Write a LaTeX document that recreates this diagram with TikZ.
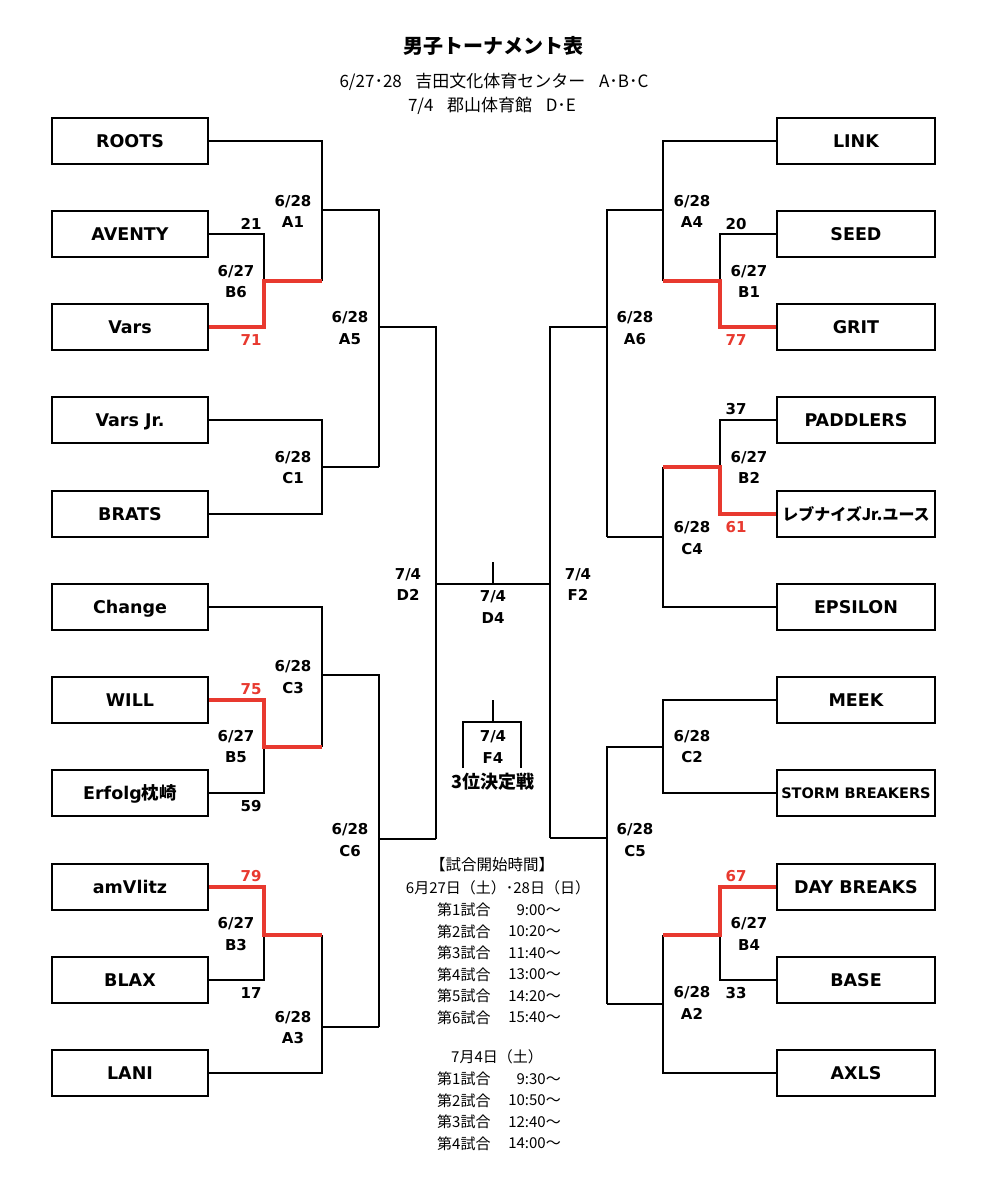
\documentclass[tikz,border=0pt]{standalone}
\usepackage{fontspec}
\setmainfont{DejaVu Sans}
\newfontfamily\jp{Noto Sans CJK JP}
\definecolor{winred}{HTML}{E8392F}
\begin{document}
\begin{tikzpicture}[x=1pt,y=-1pt,
  team/.style={draw, line width=1.8pt, minimum width=156pt, minimum height=46pt, inner sep=0pt, text height=12.6pt, text depth=0pt, font=\fontsize{17.5}{20}\selectfont\bfseries},
  rteam/.style={team, minimum width=158pt},
  ln/.style={line width=1.8pt},
  win/.style={line width=3.4pt, winred, line join=miter},
  lbl/.style={align=center, inner sep=0pt, font=\fontsize{15}{21.5}\selectfont\bfseries},
  score/.style={inner sep=0pt, font=\fontsize{15}{18}\selectfont\bfseries},
  rscore/.style={score, text=winred},
  sched/.style={inner sep=0pt, font=\fontsize{15}{18}\selectfont\jp}
]
\useasboundingbox (0,0) rectangle (989,1200);
\fill[white] (0,0) rectangle (989,1200);

% titles
\node[inner sep=0pt, font=\fontsize{20}{24}\selectfont\jp\bfseries] (title) at (493,46) {男子トーナメント表};
\node[inner sep=0pt, font=\fontsize{17}{19}\selectfont\jp] (sub1) at (494,82) {6/27･28\hspace{0.8em}吉田文化体育センター\hspace{0.8em}A･B･C};
\node[inner sep=0pt, font=\fontsize{17}{19}\selectfont\jp] (sub2) at (492,106) {7/4\hspace{0.8em}郡山体育館\hspace{0.8em}D･E};

% left teams
\node[team] (roots)   at (130,141)  {ROOTS};
\node[team] (aventy)  at (130,234)  {AVENTY};
\node[team] (vars)    at (130,327)  {Vars};
\node[team] (varsjr)  at (130,420)  {Vars Jr.};
\node[team] (brats)   at (130,514)  {BRATS};
\node[team] (change)  at (130,607)  {Change};
\node[team] (will)    at (130,700)  {WILL};
\node[team] (erfolg)  at (130,793)  {Erfolg{\jp\bfseries 枕崎}};
\node[team] (amvlitz) at (130,887)  {amVlitz};
\node[team] (blax)    at (130,980)  {BLAX};
\node[team] (lani)    at (130,1073) {LANI};

% right teams
\node[rteam] (link)      at (856,141)  {LINK};
\node[rteam] (seed)      at (856,234)  {SEED};
\node[rteam] (grit)      at (856,327)  {GRIT};
\node[rteam] (paddlers)  at (856,420)  {PADDLERS};
\node[rteam, text height=13pt, font=\fontsize{16}{19}\selectfont\jp\bfseries] (revnaiz) at (856,514) {レブナイズJr.ユース};
\node[rteam] (epsilon)   at (856,607)  {EPSILON};
\node[rteam] (meek)      at (856,700)  {MEEK};
\node[rteam, text height=10.6pt, font=\fontsize{14.5}{17}\selectfont\bfseries] (storm) at (856,793) {STORM BREAKERS};
\node[rteam] (daybreaks) at (856,887)  {DAY BREAKS};
\node[rteam] (base)      at (856,980)  {BASE};
\node[rteam] (axls)      at (856,1073) {AXLS};

% junction coordinates (left)
\coordinate (B6j) at (264,281);  \coordinate (A1j) at (322,281);
\coordinate (A1o) at (322,210);  \coordinate (A5t) at (379,210);
\coordinate (C1j) at (322,514);  \coordinate (C1o) at (322,467);
\coordinate (A5b) at (379,467);  \coordinate (A5o) at (379,327);
\coordinate (D2t) at (436,327);
\coordinate (C3j) at (322,747);  \coordinate (B5j) at (264,747);
\coordinate (C3o) at (322,675);  \coordinate (C6t) at (379,675);
\coordinate (B3j) at (264,935);  \coordinate (A3j) at (322,935);
\coordinate (A3o) at (322,1027); \coordinate (C6b) at (379,1027);
\coordinate (C6o) at (379,839);  \coordinate (D2b) at (436,839);
% center
\coordinate (D2m) at (436,584);  \coordinate (F2m) at (550,584);
\coordinate (D4m) at (493,584);  \coordinate (D4t) at (493,562);
\coordinate (F4t) at (493,700);  \coordinate (F4m) at (493,722);
\coordinate (F4lt) at (463,722); \coordinate (F4rt) at (521,722);
\coordinate (F4l) at (463,768);  \coordinate (F4r) at (521,768);
% right
\coordinate (A4j) at (663,281);  \coordinate (B1j) at (720,281);
\coordinate (A4o) at (663,210);  \coordinate (A6t) at (607,210);
\coordinate (B2j) at (720,467);  \coordinate (C4j) at (663,467);
\coordinate (C4o) at (663,537);  \coordinate (A6b) at (607,537);
\coordinate (A6o) at (607,327);  \coordinate (F2t) at (550,327);
\coordinate (C2j) at (663,793);  \coordinate (C2o) at (663,747);
\coordinate (C5t) at (607,747);
\coordinate (B4j) at (720,935);  \coordinate (A2j) at (663,935);
\coordinate (A2o) at (663,1004); \coordinate (C5b) at (607,1004);
\coordinate (C5o) at (607,838);  \coordinate (F2b) at (550,838);

% black connectors left
\draw[ln] (roots.east) -| (A1j);
\draw[ln] (aventy.east) -| (B6j);
\draw[ln] (A1o) -- (A5t) -- (A5b);
\draw[ln] (varsjr.east) -| (C1j) -- (brats.east);
\draw[ln] (C1o) -- (A5b);
\draw[ln] (A5o) -- (D2t) -- (D2b);
\draw[ln] (change.east) -| (C3j);
\draw[ln] (erfolg.east) -| (B5j);
\draw[ln] (C3o) -- (C6t) -- (C6b);
\draw[ln] (blax.east) -| (B3j);
\draw[ln] (lani.east) -| (A3j);
\draw[ln] (A3o) -- (C6b);
\draw[ln] (C6o) -- (D2b);
% center
\draw[ln] (D2m) -- (F2m);
\draw[ln] (D4m) -- (D4t);
\draw[ln] (F4t) -- (F4m);
\draw[ln] (F4l) -- (F4lt) -- (F4rt) -- (F4r);
% black connectors right
\draw[ln] (link.west) -| (A4j);
\draw[ln] (seed.west) -| (B1j);
\draw[ln] (A4o) -- (A6t) -- (A6b);
\draw[ln] (paddlers.west) -| (B2j);
\draw[ln] (epsilon.west) -| (C4j);
\draw[ln] (C4o) -- (A6b);
\draw[ln] (A6o) -- (F2t) -- (F2b);
\draw[ln] (meek.west) -| (C2j) -- (storm.west);
\draw[ln] (C2o) -- (C5t) -- (C5b);
\draw[ln] (base.west) -| (B4j);
\draw[ln] (axls.west) -| (A2j);
\draw[ln] (A2o) -- (C5b);
\draw[ln] (C5o) -- (F2b);

% winners (red)
\draw[win] (vars.east) -| (B6j) -- (A1j);
\draw[win] (will.east) -| (B5j) -- (C3j);
\draw[win] (amvlitz.east) -| (B3j) -- (A3j);
\draw[win] (grit.west) -| (B1j) -- (A4j);
\draw[win] (revnaiz.west) -| (B2j) -- (C4j);
\draw[win] (daybreaks.west) -| (B4j) -- (A2j);

% match labels
\node[lbl] (lA1) at (293,211.5) {6/28\\A1};
\node[lbl] (lB6) at (236,281.5) {6/27\\B6};
\node[lbl] (lA5) at (350,328) {6/28\\A5};
\node[lbl] (lC1) at (293,467.5) {6/28\\C1};
\node[lbl] (lD2) at (408,584.5) {7/4\\D2};
\node[lbl] (lD4) at (493,607) {7/4\\D4};
\node[lbl] (lF2) at (578,584.5) {7/4\\F2};
\node[lbl] (lF4) at (493,747) {7/4\\F4};
\node[lbl] (lC3) at (293,677) {6/28\\C3};
\node[lbl] (lB5) at (236,746.5) {6/27\\B5};
\node[lbl] (lC6) at (350,840) {6/28\\C6};
\node[lbl] (lB3) at (236,934) {6/27\\B3};
\node[lbl] (lA3) at (293,1027.5) {6/28\\A3};
\node[lbl] (lA4) at (692,211.5) {6/28\\A4};
\node[lbl] (lB1) at (749,281.5) {6/27\\B1};
\node[lbl] (lA6) at (635,328) {6/28\\A6};
\node[lbl] (lB2) at (749,467.5) {6/27\\B2};
\node[lbl] (lC4) at (692,538) {6/28\\C4};
\node[lbl] (lC2) at (692,746.5) {6/28\\C2};
\node[lbl] (lC5) at (635,840) {6/28\\C5};
\node[lbl] (lB4) at (749,934) {6/27\\B4};
\node[lbl] (lA2) at (692,1003) {6/28\\A2};
\node[inner sep=0pt, font=\fontsize{18}{20}\selectfont\jp\bfseries] (third) at (493,782) {3位決定戦};

% scores
\node[score]  (s21) at (251,224) {21};
\node[rscore] (s71) at (251,340) {71};
\node[rscore] (s75) at (251,689) {75};
\node[score]  (s59) at (251,806) {59};
\node[rscore] (s79) at (251,876) {79};
\node[score]  (s17) at (251,993) {17};
\node[score]  (s20) at (736,224) {20};
\node[rscore] (s77) at (736,340) {77};
\node[score]  (s37) at (736,409) {37};
\node[rscore] (s61) at (736,527) {61};
\node[rscore] (s67) at (736,876) {67};
\node[score]  (s33) at (736,993) {33};

% schedule
\node[sched, font=\fontsize{15.5}{18}\selectfont\jp] (sh) at (492,865) {【試合開始時間】};
\node[sched] (sd1) at (498,888) {6月27日（土）･28日（日）};
\foreach \i/\t/\y in {1/9:00/910,2/10:20/931.5,3/11:40/953,4/13:00/974.5,5/14:20/996,6/15:40/1017.5}{
  \node[sched, anchor=west] (sa\i) at (437,\y) {第\i 試合};
  \node[sched, anchor=east] (sb\i) at (561,\y) {\t〜};
}
\node[sched] (sd2) at (497,1057) {7月4日（土）};
\foreach \i/\t/\y in {1/9:30/1079,2/10:50/1100.5,3/12:40/1122,4/14:00/1143.5}{
  \node[sched, anchor=west] (sc\i) at (437,\y) {第\i 試合};
  \node[sched, anchor=east] (sd\i) at (561,\y) {\t〜};
}
\end{tikzpicture}
\end{document}
